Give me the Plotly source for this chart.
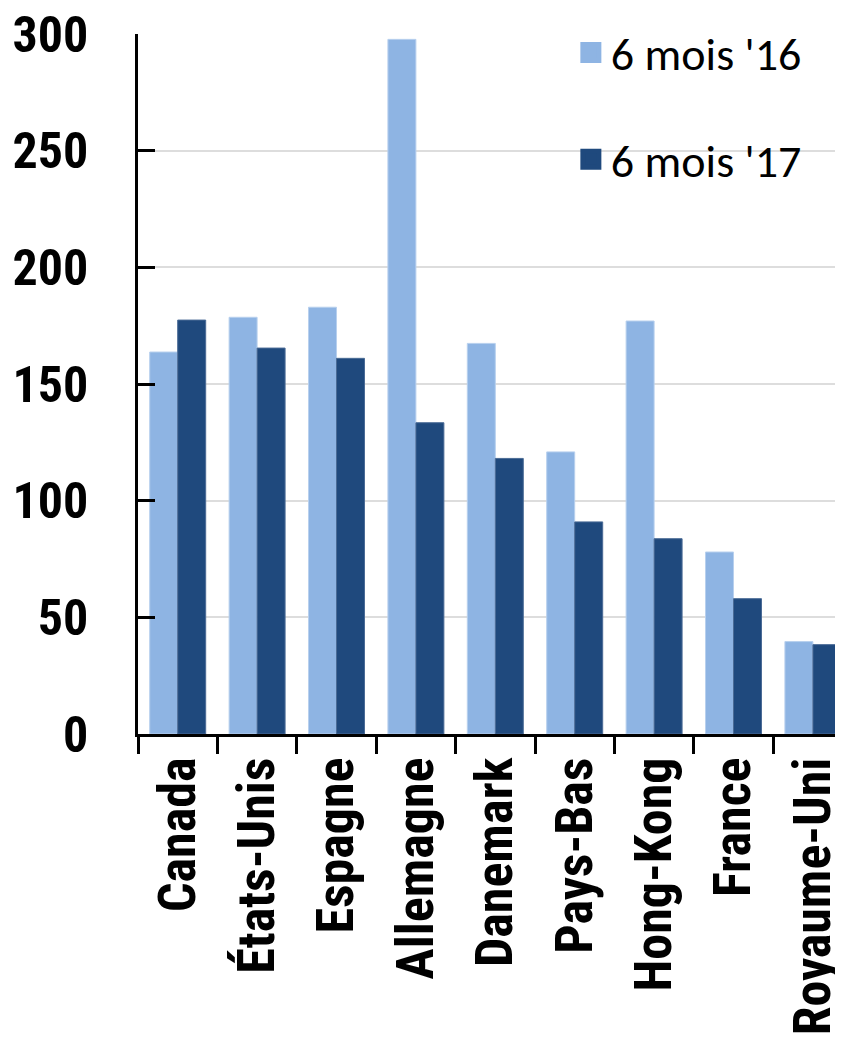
import plotly.graph_objects as go

categories = ["Canada", "États-Unis", "Espagne", "Allemagne", "Danemark",
              "Pays-Bas", "Hong-Kong", "France", "Royaume-Uni"]
values_16 = [163.7, 178.6, 182.9, 297.7, 167.4, 120.9, 177.0, 78.0, 39.6]
values_17 = [177.4, 165.4, 161.0, 133.4, 118.1, 90.9, 83.7, 58.0, 38.3]
series_names = ["6 mois '16", "6 mois '17"]
y_ticks = [0, 50, 100, 150, 200, 250, 300]

light = "#8EB4E3"
dark = "#1F497D"
bold_font = "Liberation Sans Narrow, Arial Narrow, Roboto Condensed, Liberation Sans, Arial, sans-serif"
legend_font = "Calibri, Carlito, Lato, sans-serif"

fig = go.Figure()
fig.add_trace(go.Bar(x=categories, y=values_16, name=series_names[0],
                     marker=dict(color=light, line=dict(color="#B8D0EE", width=1)),
                     showlegend=False))
fig.add_trace(go.Bar(x=categories, y=values_17, name=series_names[1],
                     marker=dict(color=dark, line=dict(color="#4A6B96", width=1)),
                     showlegend=False))
# legend proxies
for i, (nm, col) in enumerate(zip(series_names, [light, dark])):
    fig.add_trace(go.Scatter(x=[None], y=[None], mode="markers", name=nm,
                             legendgroup=f"g{i}",
                             marker=dict(symbol="square", size=16, color=col,
                                         line=dict(color=col, width=5))))

# page body has an 8px margin, so the figure is sized/offset to compensate
fig.update_layout(
    width=835, height=1031,
    margin=dict(l=130, r=0, t=26, b=305, autoexpand=False),
    plot_bgcolor="white", paper_bgcolor="white",
    barmode="group", bargap=0.295, bargroupgap=0,
    legend=dict(x=0.614, xanchor="left", y=1.0257, yanchor="top",
                font=dict(family=legend_font, size=46, color="black"),
                tracegroupgap=44, bgcolor="rgba(0,0,0,0)", itemwidth=30),
    xaxis=dict(range=[-0.5, -0.5 + 705 / 79.4], automargin=False,
               showline=True, linecolor="black", linewidth=2.5,
               ticks="outside", ticklen=17, tickwidth=2.5, tickcolor="black",
               tickson="boundaries", tickangle=-90, ticklabeloverflow="allow",
               tickfont=dict(family=bold_font, size=52, color="black", weight="bold"),
               showgrid=False),
    yaxis=dict(range=[0, 300], tickvals=y_ticks, automargin=False,
               showline=True, linecolor="black", linewidth=2.5,
               ticks="inside", ticklen=17, tickwidth=2.5, tickcolor="black",
               ticklabelstandoff=37, ticklabeloverflow="allow",
               tickfont=dict(family=bold_font, size=50, color="black", weight="bold"),
               showgrid=True, gridcolor="#DDDDDD", gridwidth=1.5,
               zeroline=False),
)

fig.write_html("out.html")
